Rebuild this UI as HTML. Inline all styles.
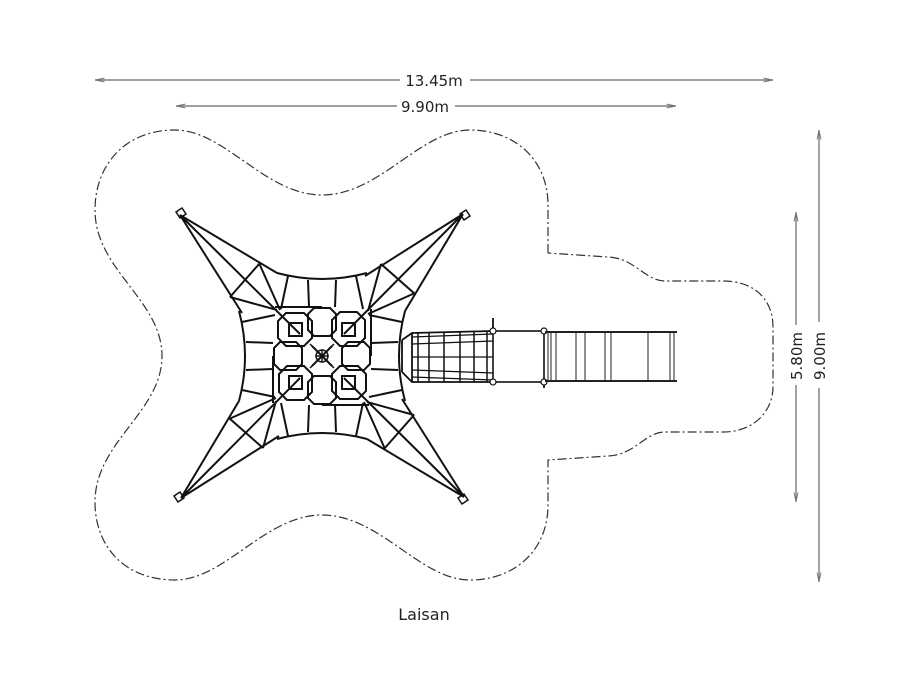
<!DOCTYPE html>
<html><head><meta charset="utf-8"><style>
html,body{margin:0;padding:0;background:#fff;}
svg{display:block;}
text{font-family:"DejaVu Sans","Liberation Sans",sans-serif;fill:#222;}
</style></head><body>
<svg width="900" height="695" viewBox="0 0 900 695" xmlns="http://www.w3.org/2000/svg">
<defs>
<g id="q" fill="none" stroke="#111" stroke-width="2">
  <path d="M180,215 L242,313 M180,215 L277,273 M180,215 L300,334"/>
  <path d="M230,297 L260,263 M259,263 L280,310 M230,297 L277,310" />
  <path d="M277,273 Q322,285 367,273"/>
  <path d="M288,276 L281,309 M308,280 L309,307 M336,280 L335,307 M356,276 L363,309"/>
  <path d="M314,308 L330,308 L336,314 L336,330 L330,336 L314,336 L308,330 L308,314 Z"/>
  <path d="M286,313 L304,313 L312,321 L312,338 L304,346 L286,346 L278,338 L278,321 Z"/>
  <rect x="289" y="323" width="13" height="13"/>
  <path d="M275,307 L322,307"/>
  <path d="M312,346 L322,356"/>
  <path d="M176,212 l6,-4 l4,6 l-6,4 Z" stroke-width="1.5"/>
</g>
<marker id="ar" viewBox="0 0 10 10" refX="10" refY="5" markerWidth="8" markerHeight="8" orient="auto-start-reverse"><path d="M0,3 L10,5 L0,7" fill="none" stroke="#777" stroke-width="1"/></marker>
</defs>

<!-- dimension lines -->
<g stroke="#666" stroke-width="1.2" fill="none">
  <line x1="95" y1="80" x2="773" y2="80" marker-start="url(#ar)" marker-end="url(#ar)"/>
  <line x1="176" y1="106" x2="676" y2="106" marker-start="url(#ar)" marker-end="url(#ar)"/>
  <line x1="819" y1="130" x2="819" y2="582" marker-start="url(#ar)" marker-end="url(#ar)"/>
  <line x1="796" y1="212" x2="796" y2="502" marker-start="url(#ar)" marker-end="url(#ar)"/>
</g>
<rect x="400" y="70" width="70" height="20" fill="#fff"/>
<rect x="397" y="96" width="58" height="20" fill="#fff"/>
<rect x="786" y="325" width="20" height="60" fill="#fff"/>
<rect x="809" y="322" width="20" height="66" fill="#fff"/>
<text x="434" y="86" font-size="15" text-anchor="middle">13.45m</text>
<text x="425" y="112" font-size="15" text-anchor="middle">9.90m</text>
<text transform="translate(802,356) rotate(-90)" font-size="15" text-anchor="middle">5.80m</text>
<text transform="translate(825,356) rotate(-90)" font-size="15" text-anchor="middle">9.00m</text>

<!-- safety zone -->
<path d="M548,253 L548,205 C548,160 515,130 470,130 C420,130 380,195 322,195 C265,195 225,130 175,130 C125,130 95,165 95,210 C95,270 162,300 162,356 C162,412 95,442 95,502 C95,547 125,580 175,580 C225,580 265,515 322,515 C380,515 420,580 470,580 C515,580 548,550 548,505 L548,460 L608,456 C635,455 645,432 665,432 L723,432 C755,432 773,410 773,387 L773,327 C773,300 755,281 723,281 L665,281 C645,281 635,258 608,257 Z" fill="none" stroke="#333" stroke-width="1.2" stroke-dasharray="9,3,2,3"/>

<!-- net structure -->
<use href="#q"/>
<use href="#q" transform="rotate(90 322 356)"/>
<use href="#q" transform="rotate(180 322 356)"/>
<use href="#q" transform="rotate(270 322 356)"/>
<g stroke="#111" stroke-width="1.5" fill="none">
  <path d="M310,344 L334,368 M334,344 L310,368 M316,356 L328,356 M322,350 L322,362"/>
  <circle cx="322" cy="356" r="6"/>
</g>

<!-- bridge -->
<g stroke="#111" stroke-width="1.8" fill="none">
  <path d="M402,340 L412,333 L493,331 M402,372 L412,382 L493,382 M402,340 L402,372"/>
  <path d="M412,333 L412,382"/>
  <path d="M418,333 L418,382 M429,333 L429,382 M444,332 L444,382 M460,332 L460,382 M474,332 L474,382 M487,331 L487,382" stroke-width="1.5"/>
  <path d="M412,337 L493,334 M412,344 L493,341 M412,357 L493,357 M412,370 L493,373 M412,377 L493,380" stroke-width="1.3"/>
  <rect x="493" y="331" width="51" height="51" stroke-width="1.6"/>
  <path d="M493,318 L493,331 M544,382 L544,388"/>
</g>
<g fill="#fff" stroke="#111" stroke-width="1.2">
  <circle cx="493" cy="331" r="3"/><circle cx="544" cy="331" r="3"/>
  <circle cx="493" cy="382" r="3"/><circle cx="544" cy="382" r="3"/>
</g>
<!-- slide -->
<g stroke="#222" fill="none">
  <path d="M545,332 L677,332 M545,381 L677,381" stroke-width="2"/>
  <path d="M548,332 V381 M551,332 V381 M556,332 V381 M576,332 V381 M585,332 V381 M605,332 V381 M611,332 V381 M648,332 V381 M670,332 V381 M674,332 V381" stroke-width="1"/>
</g>

<text x="424" y="620" font-size="16" text-anchor="middle">Laisan</text>
</svg>
</body></html>
